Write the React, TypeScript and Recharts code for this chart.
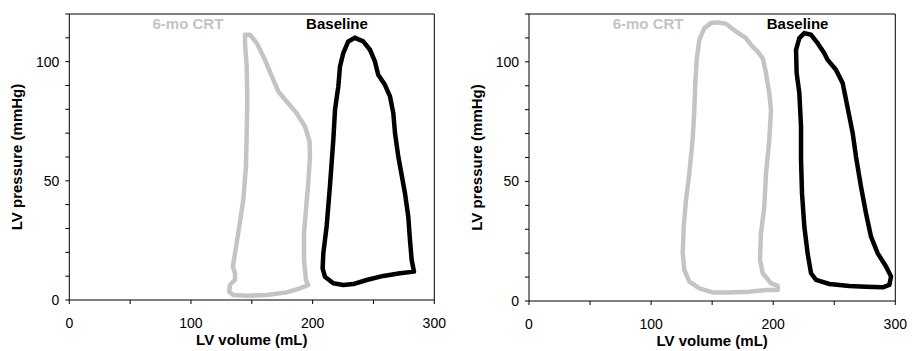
import React from 'react';
import { LineChart, Line, XAxis, YAxis, ReferenceLine, ReferenceDot, Label } from 'recharts';

// Tick values and labels
const volumeTicks = [0, 50, 100, 150, 200, 250, 300];
const volumeTickLabels: Record<number, string> = { 0: '0', 100: '100', 200: '200', 300: '300' };
const pressureTicks = [0, 10, 20, 30, 40, 50, 60, 70, 80, 90, 100, 110, 120];
const pressureTickLabels: Record<number, string> = { 0: '0', 50: '50', 100: '100' };

const seriesNames = ['6-mo CRT', 'Baseline'];
const seriesLabelVolume = [97.5, 220];
const seriesLabelPressure = 115.9;

// Patient A (left panel): [LV volume mL, LV pressure mmHg]
const leftCrtLoop: [number, number][] = [
  [144.4, 111.3], [148.5, 111.3], [154, 107.8], [160.8, 100.8], [167.7, 92.4], [171.8, 87.5],
  [178.6, 83.3], [186.8, 78.4], [193.7, 72.8], [197.5, 66.5], [197.8, 60.2], [196.4, 49],
  [194.5, 37.8], [192.9, 28], [192.9, 16.8], [194.5, 8.4], [196.4, 6.3], [189.6, 4.9],
  [178.6, 3.2], [162.2, 2.1], [145.8, 1.8], [134.8, 2.1], [131.5, 3.5], [132, 6.3],
  [136.2, 8.4], [136.2, 11.2], [134.5, 14], [136.2, 19.6], [139.7, 30.8], [143, 42],
  [145.2, 56], [145.8, 70], [146.3, 84], [145.8, 98], [144.4, 107.8], [144.4, 111.3],
];
const leftBaselineLoop: [number, number][] = [
  [234.8, 110], [241.6, 108.5], [247.1, 105], [251.2, 100.1], [253.9, 94.5], [259.4, 90.3],
  [263.6, 85.4], [266.3, 78.4], [267.7, 70], [270.4, 60.2], [275.9, 44.8], [278.6, 35],
  [280, 25.2], [281.4, 16.8], [283.3, 11.9], [271.8, 11.2], [258.1, 10.1], [244.4, 8.4],
  [233.4, 6.7], [225.2, 6.3], [217, 7], [210.1, 9.8], [208.2, 13.3], [208.8, 19.6],
  [211.5, 30.8], [214.2, 47.6], [217, 67.2], [218.4, 79.8], [221.1, 89.6], [222.5, 98],
  [225.2, 103.6], [229.3, 108.5], [234.8, 110],
];

// Patient B (right panel)
const rightCrtLoop: [number, number][] = [
  [154.5, 116.5], [161.3, 115.9], [169.5, 112.7], [177.7, 109.9], [181.8, 107.1], [187.3, 104.3],
  [191.4, 101.5], [194.1, 95.3], [196.8, 86.9], [198.2, 79.9], [196.8, 67.4], [194.1, 53.4],
  [192.7, 39.5], [190, 28.3], [189.2, 17.2], [191.4, 11.6], [198.2, 7.4], [203.7, 6.3],
  [203.7, 4.6], [194.1, 4.6], [180.5, 3.9], [164.1, 3.6], [150.4, 3.6], [139.5, 5.3],
  [131.3, 8.1], [127.2, 13], [125.9, 19.9], [126.7, 31.1], [128.6, 42.3], [131.3, 53.4],
  [134, 67.4], [135.4, 79.9], [136.2, 91.1], [137.3, 100.8], [139.5, 109.2], [143.6, 114.1],
  [149, 116.2], [154.5, 116.5],
];
const rightBaselineLoop: [number, number][] = [
  [225.5, 112], [231, 111.3], [236.4, 107.8], [241.9, 103.6], [244.6, 100.8], [251.4, 96.7],
  [256.9, 91.1], [259.1, 85.5], [262.4, 77.1], [265.1, 70.2], [267.8, 60.4], [271.9, 47.8],
  [276, 36.7], [280.1, 26.9], [285.6, 19.9], [292.4, 14.4], [296.5, 10.2], [295.1, 6.7],
  [289.7, 5.7], [276, 6], [262.4, 6.3], [246, 7.1], [235.1, 8.8], [231, 11.6],
  [228.2, 19.9], [225.5, 31.1], [223.6, 45], [222.8, 59], [222.8, 72.9], [221.4, 86.9],
  [219.2, 95.3], [218.7, 105], [221.4, 109.9], [225.5, 112],
];

const FONT = 'Arial, "Liberation Sans", sans-serif';
const GRAY = '#c4c4c4';
const BLACK = '#000000';

const toRows = (loop: [number, number][]) => loop.map(([x, y]) => ({ x, y }));

type PanelProps = {
  crt: [number, number][];
  baseline: [number, number][];
  margin: { top: number; right: number; bottom: number; left: number };
  yAxisWidth: number;
  xAxisHeight: number;
};

const Panel = ({ crt, baseline, margin, yAxisWidth, xAxisHeight }: PanelProps) => (
  <LineChart width={456} height={351} margin={margin}>
    <XAxis
      type="number"
      dataKey="x"
      domain={[0, 300]}
      ticks={volumeTicks}
      interval={0}
      allowDataOverflow
      height={xAxisHeight}
      stroke={BLACK}
      tickSize={4}
      tickMargin={14}
      tickLine={{ stroke: BLACK }}
      axisLine={{ stroke: BLACK }}
      tick={{ fill: BLACK, fontSize: 14, fontFamily: FONT }}
      tickFormatter={(v: number) => volumeTickLabels[v] ?? ''}
    >
      <Label
        content={(props: any) => {
          const vb = props.viewBox;
          return (
            <text
              x={vb.x + vb.width / 2}
              y={vb.y + 44.5}
              textAnchor="middle"
              fontFamily={FONT}
              fontWeight="bold"
              fontSize={15}
              fill={BLACK}
            >
              LV volume (mL)
            </text>
          );
        }}
      />
    </XAxis>
    <YAxis
      type="number"
      dataKey="y"
      domain={[0, 120]}
      ticks={pressureTicks}
      interval={0}
      allowDataOverflow
      width={yAxisWidth}
      stroke={BLACK}
      tickSize={4}
      tickMargin={6}
      tickLine={{ stroke: BLACK }}
      axisLine={{ stroke: BLACK }}
      tick={{ fill: BLACK, fontSize: 14, fontFamily: FONT }}
      tickFormatter={(v: number) => pressureTickLabels[v] ?? ''}
    >
      <Label
        content={(props: any) => {
          const vb = props.viewBox;
          const cx = vb.x + vb.width - 52.8;
          const cy = vb.y + vb.height / 2;
          return (
            <text
              x={cx}
              y={cy}
              transform={`rotate(-90, ${cx}, ${cy})`}
              textAnchor="middle"
              dominantBaseline="central"
              fontFamily={FONT}
              fontWeight="bold"
              fontSize={15}
              fill={BLACK}
            >
              LV pressure (mmHg)
            </text>
          );
        }}
      />
    </YAxis>
    <ReferenceLine y={120} stroke={BLACK} strokeWidth={1} />
    <ReferenceLine x={300} stroke={BLACK} strokeWidth={1} />
    <Line
      data={toRows(crt)}
      dataKey="y"
      type="linear"
      stroke={GRAY}
      strokeWidth={4.5}
      strokeLinejoin="round"
      strokeLinecap="round"
      dot={false}
      activeDot={false}
      isAnimationActive={false}
    />
    <Line
      data={toRows(baseline)}
      dataKey="y"
      type="linear"
      stroke={BLACK}
      strokeWidth={4.5}
      strokeLinejoin="round"
      strokeLinecap="round"
      dot={false}
      activeDot={false}
      isAnimationActive={false}
    />
    {seriesNames.map((name, i) => (
      <ReferenceDot
        key={name}
        x={seriesLabelVolume[i]}
        y={seriesLabelPressure}
        r={0}
        stroke="none"
        fill="none"
        label={{
          value: name,
          position: 'center',
          fill: i === 0 ? GRAY : BLACK,
          fontSize: 15,
          fontWeight: 'bold',
          fontFamily: FONT,
        }}
      />
    ))}
  </LineChart>
);

export default function App() {
  return (
    <div style={{ position: 'absolute', left: 0, top: 0, width: 912, height: 351, display: 'flex', background: '#fff' }}>
      <Panel
        crt={leftCrtLoop}
        baseline={leftBaselineLoop}
        margin={{ top: 14, right: 21.7, bottom: 11, left: 19.3 }}
        yAxisWidth={50}
        xAxisHeight={40}
      />
      <Panel
        crt={rightCrtLoop}
        baseline={rightBaselineLoop}
        margin={{ top: 14, right: 16.7, bottom: 10, left: 23 }}
        yAxisWidth={50}
        xAxisHeight={40}
      />
    </div>
  );
}
